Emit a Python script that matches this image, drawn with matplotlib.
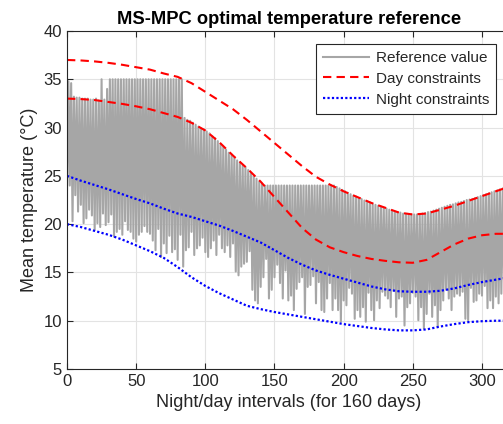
import numpy as np
import matplotlib
matplotlib.use('Agg')
import matplotlib.pyplot as plt

plt.rcParams['font.family'] = ['Liberation Sans', 'DejaVu Sans']

# night values (one per day, 160 days)
night_ref = [
    23.6, 24.0, 20.3, 23.0, 21.3, 22.0, 20.1, 20.6, 21.5, 20.9,
    19.4, 20.1, 19.7, 21.1, 19.9, 20.2, 21.0, 18.7, 19.2, 19.5,
    18.9, 20.3, 19.4, 19.2, 18.5, 18.2, 18.9, 19.2, 19.8, 19.2,
    19.0, 18.3, 17.3, 19.5, 16.6, 18.0, 17.0, 18.8, 17.1, 17.4,
    16.3, 18.9, 15.6, 17.3, 17.6, 19.2, 16.8, 17.5, 17.8, 18.6,
    17.1, 16.6, 17.5, 18.3, 16.8, 18.9, 17.5, 17.1, 17.8, 16.6,
    18.0, 15.1, 14.7, 15.6, 15.9, 16.1, 17.2, 13.2, 12.1, 11.8,
    13.5, 14.5, 16.4, 12.3, 13.2, 14.5, 15.8, 13.9,
    12.3, 15.2, 12.1, 12.6, 11.1, 13.3, 14.0, 14.5, 10.7, 13.5,
    13.7, 14.6, 11.8, 14.0, 11.1, 10.9, 12.3, 13.9, 11.1, 12.3,
    11.1, 9.9, 12.1, 11.6, 13.4, 12.8, 10.2, 11.1, 10.4, 11.4,
    9.9, 12.9, 11.1, 10.05, 12.1, 11.3, 13.0, 12.6,
    12.3, 11.4, 13.1, 10.4, 12.3, 12.5, 9.5, 11.4, 11.8, 12.9,
    12.5, 10.05, 11.4, 9.2, 10.7, 12.8, 10.4, 11.6, 9.4, 11.1,
    12.1, 13.2, 12.3, 11.1, 12.5, 12.8, 12.6, 13.0, 10.2, 10.05,
    13.4, 11.95, 12.1, 12.8, 12.6, 13.6, 11.3, 12.1, 11.3, 12.5,
    11.8, 12.8, 13.5, 12.0,
]

# day values (one per day, 160 days)
day_ref = [
    34.8, 34.6,
    33.2, 33.1, 33.1, 33.0, 33.0, 33.0, 32.9, 32.9, 33.0, 32.8,
    35.0, 32.9, 34.0,
    35.0, 35.0, 35.0, 35.0, 35.0, 35.0, 35.0, 35.0, 35.0, 35.0,
    35.0, 35.0, 35.0, 35.0, 35.0, 35.0, 35.0, 35.0, 35.0, 35.0,
    35.0, 35.0, 35.0, 35.0, 35.0, 35.0, 35.0,
    31.0, 30.8, 30.7, 30.5, 30.3, 30.1, 29.9, 29.8, 29.6, 29.4,
    29.1, 28.9, 28.6, 28.3, 28.0, 27.7, 27.4, 27.2, 26.9, 26.6,
    26.4, 26.1, 25.9, 25.6, 25.3, 25.0, 24.7, 24.4, 24.2,
    24.0, 24.0, 24.0, 24.0, 24.0, 24.0, 24.0, 24.0, 24.0, 24.0,
    24.0, 24.0, 24.0, 24.0, 24.0, 24.0, 24.0, 24.0, 24.0, 24.0,
    24.0, 24.0, 24.0, 24.0, 24.0,
    24.0, 23.85, 23.7, 23.55, 23.4, 23.25, 23.1, 22.95, 22.85, 22.7,
    22.6, 22.45, 22.35, 22.25, 22.1, 22.0, 21.9, 21.8, 21.7, 21.6,
    21.5, 21.4, 21.3, 21.25, 21.2, 21.1, 21.05, 21.0, 21.0, 21.0,
    21.0, 21.05, 21.1, 21.15, 21.25, 21.3, 21.4, 21.5, 21.6, 21.7,
    21.8, 21.9, 22.0, 22.05, 22.15, 22.25, 22.3, 22.4, 22.5, 22.55,
    22.6, 22.7, 22.8, 22.9, 23.0, 23.1, 23.2, 23.3, 23.4, 23.5,
    23.6, 23.7, 23.8, 23.9,
]

# constraints sampled every 10 intervals
con_x = list(range(0, 321, 10))
day_upper = [37.0, 36.95, 36.85, 36.7, 36.5, 36.25, 36.0, 35.6, 35.25, 34.6,
             33.7, 32.8, 31.9, 30.8, 29.6, 28.4, 27.2, 26.0, 24.9, 24.1,
             23.4, 22.8, 22.2, 21.7, 21.2, 21.0, 21.1, 21.5, 21.9, 22.4,
             22.9, 23.4, 23.9]
day_lower = [33.0, 32.95, 32.85, 32.65, 32.45, 32.2, 31.9, 31.5, 31.1, 30.5,
             29.7, 28.5, 27.1, 25.8, 24.4, 22.8, 21.2, 19.6, 18.4, 17.6,
             17.1, 16.7, 16.4, 16.2, 16.05, 16.0, 16.3, 17.1, 17.9, 18.5,
             18.85, 19.0, 19.0]
night_upper = [25.0, 24.5, 24.05, 23.6, 23.1, 22.6, 22.15, 21.6, 21.1, 20.75,
               20.3, 19.85, 19.3, 18.7, 18.1, 17.3, 16.5, 15.8, 15.2, 14.75,
               14.35, 13.95, 13.55, 13.25, 13.05, 13.0, 13.0, 13.1, 13.35, 13.7,
               14.0, 14.25, 14.5]
night_lower = [20.0, 19.7, 19.3, 18.9, 18.4, 17.8, 17.2, 16.5, 15.55, 14.5,
               13.6, 12.85, 12.2, 11.55, 11.2, 10.9, 10.65, 10.4, 10.15, 9.9,
               9.65, 9.45, 9.25, 9.1, 9.0, 9.0, 9.1, 9.4, 9.65, 9.85,
               9.95, 10.0, 10.0]

# interleave night/day into one interval series
ref = np.empty(2 * len(day_ref))
ref[0::2] = night_ref
ref[1::2] = day_ref
intervals = np.arange(len(ref))

txt = '#262626'
fig = plt.figure(figsize=(5.03, 4.24), dpi=100)
ax = fig.add_axes([0.1332, 0.1297, 0.880, 0.7972])

ax.plot(intervals, ref, color='#a6a6a6', linewidth=1.5, label='Reference value')
ax.plot(con_x, day_upper, color='red', linewidth=1.5, dashes=(4, 2.5), label='Day constraints')
ax.plot(con_x, day_lower, color='red', linewidth=1.5, dashes=(4, 2.5))
ax.plot(con_x, night_upper, color='blue', linewidth=1.6, dashes=(1, 1), label='Night constraints')
ax.plot(con_x, night_lower, color='blue', linewidth=1.6, dashes=(1, 1))

ax.set_xlim(0, 320)
ax.set_ylim(5, 40)
ax.set_xticks(np.arange(0, 321, 50))
ax.set_yticks(np.arange(5, 41, 5))
ax.grid(True, color='#e3e3e3', linewidth=0.8)
ax.set_axisbelow(True)
ax.tick_params(direction='in', top=True, right=True, length=4, width=0.8,
               colors=txt, labelsize=12)
for s in ax.spines.values():
    s.set_color(txt)
    s.set_linewidth(0.8)

ax.set_xlabel('Night/day intervals (for 160 days)', fontsize=13, color=txt)
ax.set_ylabel('Mean temperature (°C)', fontsize=13, color=txt)
fig.text(0.574, 0.955, 'MS-MPC optimal temperature reference', ha='center',
         va='center', fontsize=13.2, fontweight='bold', color='black')

leg = ax.legend(loc='upper right', bbox_to_anchor=(0.986, 0.896),
                bbox_transform=fig.transFigure, fontsize=11, handlelength=3.0,
                fancybox=False, framealpha=1, borderaxespad=0, borderpad=0.45,
                labelspacing=0.45, handletextpad=0.45)
leg.get_frame().set_edgecolor(txt)
leg.get_frame().set_linewidth(0.8)
for t in leg.get_texts():
    t.set_color(txt)

fig.savefig('out.png', dpi=100)
